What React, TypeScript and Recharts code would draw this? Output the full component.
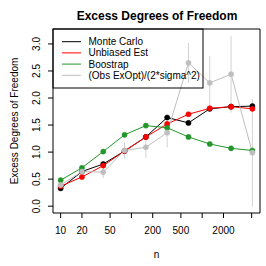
import React from "react";
import {
  LineChart,
  Line,
  XAxis,
  YAxis,
  ErrorBar,
  ReferenceArea,
  Legend,
} from "recharts";

// ---- data ----
const nValues = [10, 20, 40, 80, 160, 320, 640, 1280, 2560, 5120];
const monteCarlo = [0.33, 0.64, 0.78, 1.02, 1.28, 1.64, 1.54, 1.8, 1.84, 1.85];
const unbiasedEst = [0.37, 0.54, 0.75, 1.02, 1.28, 1.52, 1.7, 1.81, 1.84, 1.8];
const bootstrap = [0.48, 0.71, 1.01, 1.32, 1.49, 1.45, 1.28, 1.15, 1.07, 1.03];
const obsExOpt = [0.39, 0.64, 0.63, 1.03, 1.09, 1.36, 2.65, 2.28, 2.44, 0.99];
const obsExOptErr = [0.03, 0.05, 0.11, 0.15, 0.2, 0.27, 0.37, 0.5, 0.71, 1.0];

const xTicks = [10, 20, 50, 100, 200, 500, 1000, 2000, 5000];
const xTickLabels = ["10", "20", "50", "", "200", "500", "", "2000", ""];
const yTicks = [0, 0.5, 1, 1.5, 2, 2.5, 3];

const seriesNames = [
  "Monte Carlo",
  "Unbiased Est",
  "Boostrap",
  "(Obs ExOpt)/(2*sigma^2)",
];

const data = nValues.map((n, i) => ({
  n,
  mc: monteCarlo[i],
  ub: unbiasedEst[i],
  bs: bootstrap[i],
  obs: obsExOpt[i],
  obsErr: obsExOptErr[i],
}));

const X_DOMAIN: [number, number] = [7.8, 6561];
const Y_DOMAIN: [number, number] = [-0.126, 3.276];

const FONT = "'Liberation Sans', Arial, Helvetica, sans-serif";

const COLORS = {
  mc: "#000000",
  ub: "#ff0000",
  bs: "#23962a",
  obs: "#bebebe",
  obsErr: "#d3d3d3",
};

const XTick = (props: any) => {
  const { x, y, payload } = props;
  const idx = xTicks.indexOf(payload.value);
  const label = idx >= 0 ? xTickLabels[idx] : "";
  return (
    <text
      x={x}
      y={y}
      dy="0.71em"
      textAnchor="middle"
      fontSize={10}
      fontFamily={FONT}
      fill="#000"
    >
      {label}
    </text>
  );
};

const YTick = (props: any) => {
  const { x, y, payload } = props;
  return (
    <text
      x={x}
      y={y}
      transform={`rotate(-90 ${x} ${y})`}
      textAnchor="middle"
      fontSize={10}
      fontFamily={FONT}
      fill="#000"
    >
      {Number(payload.value).toFixed(1)}
    </text>
  );
};

const renderLegend = (props: any) => {
  const payload = [...(props.payload || [])].sort(
    (a: any, b: any) => seriesNames.indexOf(a.value) - seriesNames.indexOf(b.value)
  );
  return (
    <svg width={153} height={62} style={{ display: "block" }}>
      <rect x={1} y={1} width={150} height={59} fill="none" stroke="#000" strokeWidth={1} />
      {payload.map((e: any, i: number) => {
        const cy = 13.7 + i * 11.2;
        return (
          <g key={i}>
            <line x1={10} x2={29} y1={cy} y2={cy} stroke={e.color} strokeWidth={1} />
            <text
              x={36.5}
              y={cy}
              dy="0.35em"
              fontSize={10}
              fontFamily={FONT}
              fill="#000"
            >
              {e.value}
            </text>
          </g>
        );
      })}
    </svg>
  );
};

const dot = (color: string) => ({ r: 2.6, fill: color, stroke: color, strokeWidth: 0.5 });

export default function App() {
  return (
    <div style={{ position: "absolute", left: 0, top: 0 }}>
      <LineChart
        width={266}
        height={266}
        data={data}
        margin={{ top: 29, right: 6, bottom: 0, left: 0 }}
      >
        <text
          x={157}
          y={20}
          textAnchor="middle"
          fontSize={12}
          fontWeight="bold"
          fontFamily={FONT}
          fill="#000"
        >
          Excess Degrees of Freedom
        </text>
        <text
          x={18}
          y={121}
          transform="rotate(-90 18 121)"
          textAnchor="middle"
          fontSize={10}
          fontFamily={FONT}
          fill="#000"
        >
          Excess Degrees of Freedom
        </text>
        <XAxis
          dataKey="n"
          type="number"
          scale="log"
          domain={X_DOMAIN}
          allowDataOverflow
          ticks={xTicks}
          interval={0}
          tick={<XTick />}
          tickSize={5}
          tickMargin={9}
          tickLine={{ stroke: "#000" }}
          axisLine={false}
          height={53}
          label={{
            value: "n",
            position: "insideBottom",
            offset: 8,
            fontSize: 10,
            fontFamily: FONT,
            fill: "#000",
          }}
        />
        <YAxis
          type="number"
          domain={Y_DOMAIN}
          allowDataOverflow
          ticks={yTicks}
          interval={0}
          tick={<YTick />}
          tickSize={5}
          tickMargin={8}
          tickLine={{ stroke: "#000" }}
          axisLine={false}
          width={53}
        />
        <ReferenceArea
          x1={X_DOMAIN[0]}
          x2={X_DOMAIN[1]}
          y1={Y_DOMAIN[0]}
          y2={Y_DOMAIN[1]}
          fill="none"
          stroke="#000"
          strokeWidth={1}
          ifOverflow="visible"
        />
        <Legend
          layout="vertical"
          align="center"
          verticalAlign="middle"
          content={renderLegend}
          wrapperStyle={{ left: 52, top: 28, width: 153, height: 62 }}
        />
        <Line
          type="linear"
          dataKey="mc"
          name={seriesNames[0]}
          stroke={COLORS.mc}
          strokeWidth={1}
          dot={dot(COLORS.mc)}
          activeDot={false}
          isAnimationActive={false}
        />
        <Line
          type="linear"
          dataKey="ub"
          name={seriesNames[1]}
          stroke={COLORS.ub}
          strokeWidth={1}
          dot={dot(COLORS.ub)}
          activeDot={false}
          isAnimationActive={false}
        />
        <Line
          type="linear"
          dataKey="bs"
          name={seriesNames[2]}
          stroke={COLORS.bs}
          strokeWidth={1}
          dot={dot(COLORS.bs)}
          activeDot={false}
          isAnimationActive={false}
        />
        <Line
          type="linear"
          dataKey="obs"
          name={seriesNames[3]}
          stroke={COLORS.obs}
          strokeWidth={1}
          dot={dot(COLORS.obs)}
          activeDot={false}
          isAnimationActive={false}
        >
          <ErrorBar
            dataKey="obsErr"
            width={0}
            stroke={COLORS.obsErr}
            strokeWidth={1}
            isAnimationActive={false}
          />
        </Line>
      </LineChart>
    </div>
  );
}
